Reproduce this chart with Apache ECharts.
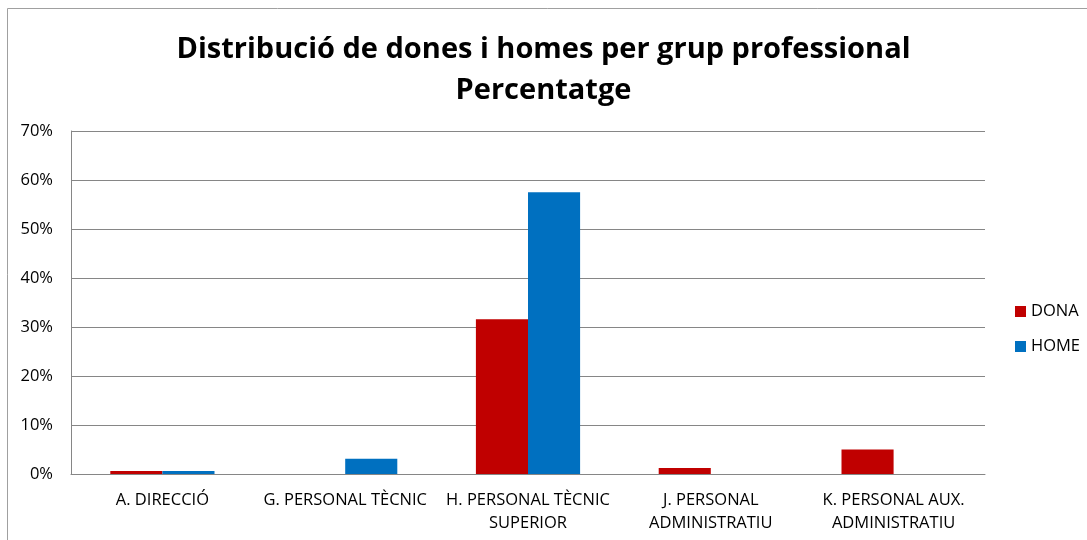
<!DOCTYPE html>
<html><head><meta charset="utf-8">
<script src="https://cdn.jsdelivr.net/npm/echarts@6/dist/echarts.min.js"></script>
<style>html,body{margin:0;padding:0;background:#fff}#c{width:1087px;height:540px}</style>
</head><body><div id="c"></div>
<script>
const categories = ['A. DIRECCIÓ', 'G. PERSONAL TÈCNIC', 'H. PERSONAL TÈCNIC\nSUPERIOR', 'J. PERSONAL\nADMINISTRATIU', 'K. PERSONAL AUX.\nADMINISTRATIU'];
const dona = [0.6, 0, 31.6, 1.2, 5.0];
const home = [0.6, 3.1, 57.5, 0, 0];
const seriesNames = ['DONA', 'HOME'];
const titleLines = ['Distribució de dones i homes per grup professional', 'Percentatge'];

const FONT = 'Open Sans';
const chart = echarts.init(document.getElementById('c'), null, {renderer: 'canvas'});
chart.setOption({
  animation: false,
  backgroundColor: '#fff',
  graphic: [{type: 'rect', shape: {x: 7.5, y: 8.5, width: 1200, height: 700}, style: {fill: 'none', stroke: '#a0a0a0', lineWidth: 1}, silent: true}],
  title: {
    text: titleLines.join('\n'), left: 'center', top: 24,
    textStyle: {fontFamily: FONT, fontWeight: 'bold', fontSize: 29, color: '#000', lineHeight: 41}
  },
  legend: {
    orient: 'vertical', left: 1010, top: 298, itemWidth: 11, itemHeight: 11, itemGap: 18,
    icon: 'rect', textStyle: {fontFamily: FONT, fontSize: 16.5, color: '#000'},
    data: seriesNames
  },
  grid: {left: 71, right: 102, top: 131, bottom: 66},
  xAxis: {
    type: 'category', data: categories,
    axisLine: {lineStyle: {color: '#868686', width: 1}},
    axisTick: {show: false},
    axisLabel: {fontFamily: FONT, fontSize: 16.5, color: '#000', margin: 15, lineHeight: 23, interval: 0}
  },
  yAxis: {
    type: 'value', min: 0, max: 70, interval: 10,
    axisLine: {show: true, lineStyle: {color: '#868686'}},
    axisTick: {show: false},
    splitLine: {lineStyle: {color: '#868686', width: 1}},
    axisLabel: {fontFamily: FONT, fontSize: 16.5, color: '#000', margin: 18, formatter: v => v + '%'}
  },
  series: [
    {name: seriesNames[0], type: 'bar', data: dona, barGap: '0%', barCategoryGap: '43%', itemStyle: {color: '#C00000'}},
    {name: seriesNames[1], type: 'bar', data: home, barGap: '0%', barCategoryGap: '43%', itemStyle: {color: '#0070C0'}}
  ]
});
</script></body></html>
